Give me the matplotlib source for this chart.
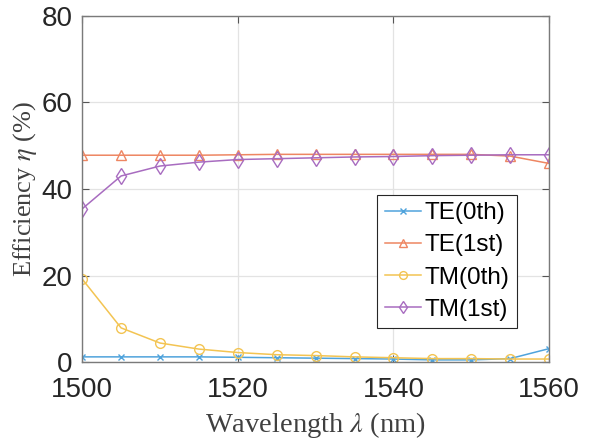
import numpy as np
import matplotlib.pyplot as plt

plt.rcParams['mathtext.fontset'] = 'stix'

wavelength = [1500, 1505, 1510, 1515, 1520, 1525, 1530, 1535, 1540, 1545, 1550, 1555, 1560]
te0 = [1.2, 1.2, 1.2, 1.2, 1.1, 1.0, 0.9, 0.8, 0.7, 0.5, 0.5, 0.8, 3.1]
te1 = [47.8, 47.8, 47.8, 47.8, 47.9, 48.0, 48.0, 48.0, 48.0, 48.0, 48.0, 47.6, 45.9]
tm0 = [19.2, 7.9, 4.4, 3.0, 2.2, 1.7, 1.5, 1.2, 1.0, 0.8, 0.8, 0.7, 0.7]
tm1 = [35.4, 43.0, 45.3, 46.2, 46.8, 47.0, 47.2, 47.4, 47.5, 47.7, 47.8, 47.9, 47.9]

labels = ['TE(0th)', 'TE(1st)', 'TM(0th)', 'TM(1st)']
colors = ['#4fa3dc', '#ee8662', '#f3c452', '#a86cc0']
markers = ['x', '^', 'o', 'd']
msizes = [5, 7.5, 7, 8]

fig = plt.figure(figsize=(5.91, 4.41), dpi=100)
ax = fig.add_axes([0.139, 0.179, 0.790, 0.785])

for y, lab, c, m, ms in zip([te0, te1, tm0, tm1], labels, colors, markers, msizes):
    ax.plot(wavelength, y, color=c, marker=m, markersize=ms, markerfacecolor='none',
            markeredgewidth=1.0, linewidth=1.1, label=lab)

ax.set_xlim(1500, 1560)
ax.set_ylim(0, 80)
ax.set_xticks([1500, 1520, 1540, 1560])
ax.set_yticks([0, 20, 40, 60, 80])
ax.grid(True, color='#e3e3e3', linewidth=0.9)
ax.set_axisbelow(True)

for s in ax.spines.values():
    s.set_color('#7a7a7a')
    s.set_linewidth(1.0)
ax.tick_params(direction='in', top=True, right=True, length=5, color='#555555',
               labelsize=20, labelcolor='#262626')
ax.tick_params(axis='x', pad=11)
ax.tick_params(axis='y', pad=7)
for t in ax.get_xticklabels() + ax.get_yticklabels():
    t.set_fontfamily('Liberation Sans')

ax.set_xlabel(r'Wavelength $\lambda$ (nm)', fontfamily='Liberation Serif', fontsize=20.5,
              color='#404040', labelpad=5)
ax.set_ylabel(r'Efficiency $\eta$ (%)', fontfamily='Liberation Serif', fontsize=19,
              color='#404040', labelpad=2)

leg = ax.legend(loc='lower left', bbox_to_anchor=(0.632, 0.098), fancybox=False,
                framealpha=1, edgecolor='#262626', borderpad=0.3, labelspacing=0.42,
                handlelength=1.5, handletextpad=0.15, borderaxespad=0, markerscale=0.8,
                prop={'family': 'Liberation Sans', 'size': 17.5})
leg.get_frame().set_linewidth(0.8)

fig.savefig('out.png', dpi=100)
